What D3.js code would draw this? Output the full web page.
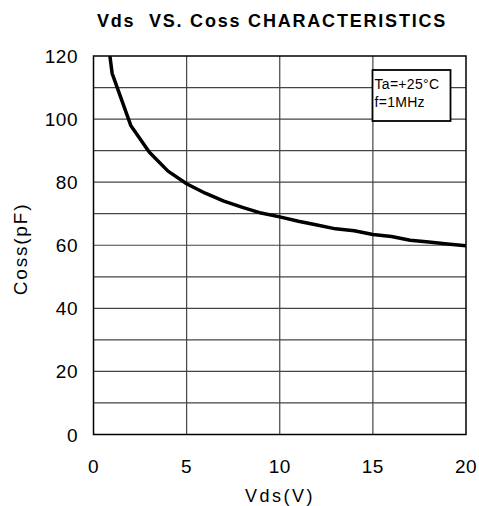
<!DOCTYPE html>
<html>
<head>
<meta charset="utf-8">
<script src="https://cdn.jsdelivr.net/npm/d3@7"></script>
<style>
  body { margin: 0; background: #fff; }
  text { font-family: "Liberation Sans", Arial, sans-serif; }
</style>
</head>
<body>
<div id="chart"></div>
<script>

// Coss curve
var vds  = [0.88, 1, 2, 3, 4, 5, 6, 7, 8, 9, 10, 11, 12, 13, 14, 15, 16, 17, 18, 19, 20];
var coss = [120, 114.5, 98, 89.5, 83.5, 79.5, 76.5, 74, 72, 70.2, 69, 67.6, 66.4, 65.2, 64.6, 63.4, 62.8, 61.6, 61, 60.4, 59.8];

var xTicks = [0, 5, 10, 15, 20];
var yTicks = [0, 20, 40, 60, 80, 100, 120];
var yGrid  = [10, 20, 30, 40, 50, 60, 70, 80, 90, 100, 110];
var notes  = ['Ta=+25°C', 'f=1MHz'];

var width = 479;
var height = 506;

var plotLeft = 93.5;
var plotRight = 466;
var plotTop = 56;
var plotBottom = 434.5;

var svg = d3.select('#chart')
		.append('svg')
		.attr('width', width)
		.attr('height', height);

var x = d3.scaleLinear().domain([0, 20]).range([plotLeft, plotRight]);
var y = d3.scaleLinear().domain([0, 120]).range([plotBottom, plotTop]);

// Grid, horizontal
svg.append('g')
		.selectAll('line')
		.data(yGrid)
		.enter()
		.append('line')
		.attr('x1', plotLeft)
		.attr('x2', plotRight)
		.attr('y1', function (d) { return y(d); })
		.attr('y2', function (d) { return y(d); })
		.attr('stroke', '#444')
		.attr('stroke-width', 1.2);

// Grid, vertical
svg.append('g')
		.selectAll('line')
		.data([5, 10, 15])
		.enter()
		.append('line')
		.attr('x1', function (d) { return x(d); })
		.attr('x2', function (d) { return x(d); })
		.attr('y1', plotTop)
		.attr('y2', plotBottom)
		.attr('stroke', '#444')
		.attr('stroke-width', 1.2);

// Frame
svg.append('rect')
		.attr('x', plotLeft)
		.attr('y', plotTop)
		.attr('width', plotRight - plotLeft)
		.attr('height', plotBottom - plotTop)
		.attr('fill', 'none')
		.attr('stroke', '#000')
		.attr('stroke-width', 1.5);

// Y tick labels
svg.append('g')
		.selectAll('text')
		.data(yTicks)
		.enter()
		.append('text')
		.attr('x', 78)
		.attr('y', function (d) { return y(d) + 7; })
		.attr('text-anchor', 'end')
		.attr('font-size', '19px')
		.attr('letter-spacing', '0.5px')
		.attr('fill', '#000')
		.text(function (d) { return d; });

// X tick labels
svg.append('g')
		.selectAll('text')
		.data(xTicks)
		.enter()
		.append('text')
		.attr('x', function (d) { return x(d); })
		.attr('y', 473)
		.attr('text-anchor', 'middle')
		.attr('font-size', '19px')
		.attr('letter-spacing', '0.5px')
		.attr('fill', '#000')
		.text(function (d) { return d; });

// Curve
svg.append('clipPath')
		.attr('id', 'plot-clip')
		.append('rect')
		.attr('x', plotLeft)
		.attr('y', plotTop)
		.attr('width', plotRight - plotLeft)
		.attr('height', plotBottom - plotTop);

var line = d3.line()
		.x(function (d, i) { return x(vds[i]); })
		.y(function (d) { return y(d); });

svg.append('path')
		.attr('d', line(coss))
		.attr('clip-path', 'url(#plot-clip)')
		.attr('fill', 'none')
		.attr('stroke', '#000')
		.attr('stroke-width', 3.5)
		.attr('stroke-linejoin', 'round');

// Note box
var box = svg.append('g');

box.append('rect')
		.attr('x', 372.5)
		.attr('y', 70)
		.attr('width', 78)
		.attr('height', 51)
		.attr('fill', '#fff')
		.attr('stroke', '#000')
		.attr('stroke-width', 1.8);

box.selectAll('text')
		.data(notes)
		.enter()
		.append('text')
		.attr('x', 374.5)
		.attr('y', function (d, i) { return 88.5 + i * 18.5; })
		.attr('font-size', '14px')
		.attr('letter-spacing', '0.3px')
		.attr('fill', '#000')
		.text(function (d) { return d; });

// Title (keeps the double space)
svg.append('text')
		.attr('x', 272)
		.attr('y', 27)
		.attr('text-anchor', 'middle')
		.attr('font-size', '18px')
		.attr('font-weight', 'bold')
		.attr('letter-spacing', '1.8px')
		.style('white-space', 'pre')
		.attr('fill', '#000')
		.text('Vds  VS. Coss CHARACTERISTICS');

// Axis titles
svg.append('text')
		.attr('x', 280)
		.attr('y', 502)
		.attr('text-anchor', 'middle')
		.attr('font-size', '18px')
		.attr('letter-spacing', '2.5px')
		.attr('fill', '#000')
		.text('Vds(V)');

svg.append('text')
		.attr('transform', 'translate(27,' + 249 + ') rotate(-90)')
		.attr('text-anchor', 'middle')
		.attr('font-size', '19px')
		.attr('letter-spacing', '1.8px')
		.attr('fill', '#000')
		.text('Coss(pF)');

</script>
</body>
</html>
